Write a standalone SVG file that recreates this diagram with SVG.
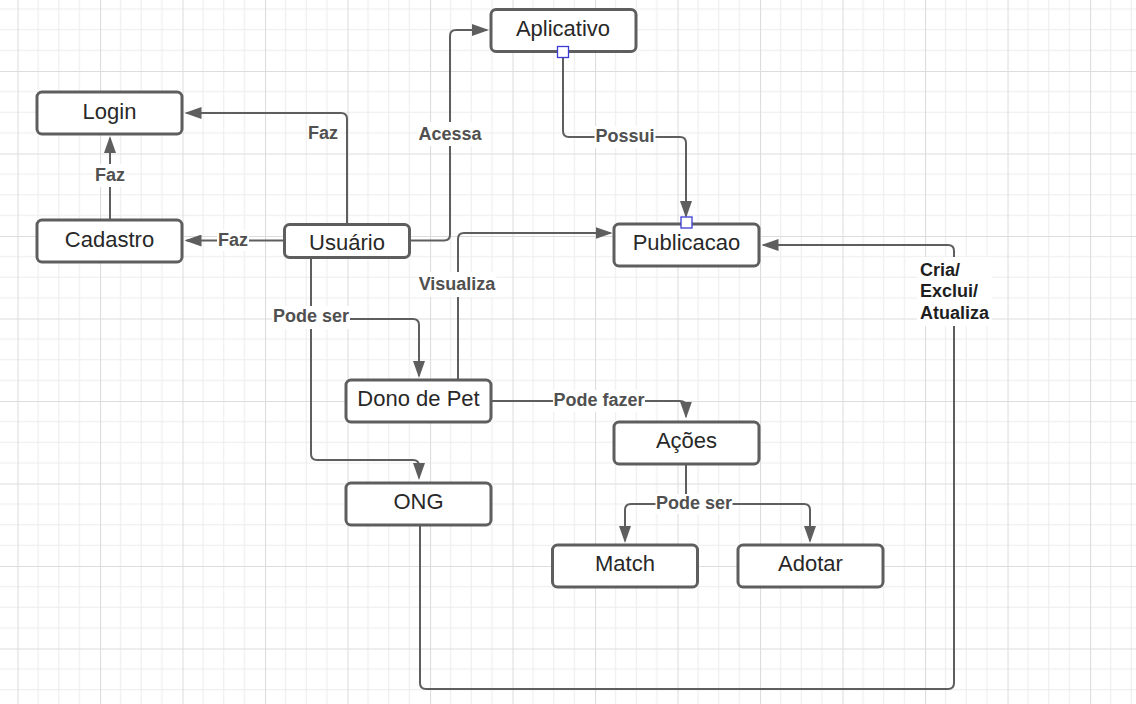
<svg xmlns="http://www.w3.org/2000/svg" width="1136" height="704" viewBox="0 0 1136 704">
  <defs>
    <pattern id="grid" patternUnits="userSpaceOnUse" x="17.5" y="-11.5" width="82.5" height="82.5">
      <g stroke="#ececec" stroke-width="1" fill="none">
        <line x1="20.625" y1="0" x2="20.625" y2="82.5"/>
        <line x1="41.25" y1="0" x2="41.25" y2="82.5"/>
        <line x1="61.875" y1="0" x2="61.875" y2="82.5"/>
        <line x1="0" y1="20.625" x2="82.5" y2="20.625"/>
        <line x1="0" y1="41.25" x2="82.5" y2="41.25"/>
        <line x1="0" y1="61.875" x2="82.5" y2="61.875"/>
      </g>
      <g stroke="#dddddd" stroke-width="1.2" fill="none">
        <line x1="0.5" y1="0" x2="0.5" y2="82.5"/>
        <line x1="0" y1="0.5" x2="82.5" y2="0.5"/>
      </g>
    </pattern>
    <marker id="arrow" markerUnits="userSpaceOnUse" markerWidth="18" markerHeight="12" refX="15" refY="6" orient="auto">
      <path d="M0,0 L17,6 L0,12 z" fill="#5e5e5e"/>
    </marker>
    <style>
      .node rect { fill: #ffffff; stroke: #5e5e5e; stroke-width: 3; }
      .node text { font-family: "Liberation Sans", Arial, sans-serif; font-size: 22px; fill: #282828; text-anchor: middle; }
      .conn { fill: none; stroke: #5e5e5e; stroke-width: 2; }
      .arr { marker-end: url(#arrow); }
      .lbl { font-family: "Liberation Sans", Arial, sans-serif; font-size: 18px; font-weight: bold; fill: #505050; text-anchor: middle; }
      .lbl-dark { font-family: "Liberation Sans", Arial, sans-serif; font-size: 18px; font-weight: bold; fill: #1e1e1e; }
      .bg { fill: #ffffff; }
      .pt { fill: #ffffff; stroke: #3b3bd6; stroke-width: 1.3; }
    </style>
  </defs>

  <rect x="0" y="0" width="1136" height="704" fill="#ffffff"/>
  <rect x="0" y="0" width="1136" height="704" fill="url(#grid)"/>

  <g id="connectors">
    <path class="conn arr" d="M347,224 V119 Q347,113 341,113 H186.5"/>
    <path class="conn arr" d="M110,220 V138"/>
    <path class="conn arr" d="M284,240.5 H186.5"/>
    <path class="conn arr" d="M409,240.5 H444 Q450,240.5 450,234.5 V36 Q450,30 456,30 H487"/>
    <path class="conn arr" d="M563,52 V131 Q563,137 569,137 H680 Q686,137 686,143 V216"/>
    <path class="conn arr" d="M458,380 V239 Q458,233 464,233 H610.5"/>
    <path class="conn arr" d="M311,258 V319 H413 Q419,319 419,325 V376"/>
    <path class="conn arr" d="M311,258 V454 Q311,460 317,460 H413 Q419,460 419,466 V478"/>
    <path class="conn arr" d="M491,401 H680 Q686,401 686,407 V416.5"/>
    <path class="conn arr" d="M686,464 V504 H631 Q625,504 625,510 V541"/>
    <path class="conn arr" d="M686,504 H804 Q810,504 810,510 V541"/>
    <path class="conn arr" d="M420,526 V683 Q420,689 426,689 H948 Q954,689 954,683 V251 Q954,245 948,245 H763.5"/>

    <text class="lbl" x="323" y="139">Faz</text>
    <rect class="bg" x="94" y="164" width="32" height="23"/>
    <text class="lbl" x="110" y="181">Faz</text>
    <rect class="bg" x="217" y="230" width="32" height="21"/>
    <text class="lbl" x="233" y="246">Faz</text>
    <rect class="bg" x="417.5" y="122" width="65" height="24"/>
    <text class="lbl" x="450" y="139.5">Acessa</text>
    <rect class="bg" x="594.5" y="126" width="61" height="22"/>
    <text class="lbl" x="625" y="142">Possui</text>
    <rect class="bg" x="417.5" y="272" width="79" height="25"/>
    <text class="lbl" x="457" y="290">Visualiza</text>
    <rect class="bg" x="272" y="306" width="78" height="23"/>
    <text class="lbl" x="311" y="322">Pode ser</text>
    <rect class="bg" x="553" y="390" width="92" height="22"/>
    <text class="lbl" x="599" y="405.5">Pode fazer</text>
    <rect class="bg" x="655.5" y="494" width="77" height="20"/>
    <text class="lbl" x="694" y="508.5">Pode ser</text>
    <rect class="bg" x="917" y="257" width="75" height="69"/>
    <text class="lbl-dark" x="920" y="275.5">Cria/</text>
    <text class="lbl-dark" x="920" y="297">Exclui/</text>
    <text class="lbl-dark" x="920" y="319">Atualiza</text>
  </g>

  <g id="node-login" class="node">
    <rect x="37" y="92" width="145" height="42" rx="5"/>
    <text x="109.5" y="118.5">Login</text>
  </g>
  <g id="node-cadastro" class="node">
    <rect x="37" y="220" width="145" height="42" rx="5"/>
    <text x="109.5" y="246.5">Cadastro</text>
  </g>
  <g id="node-usuario" class="node">
    <rect x="284.5" y="224.5" width="125" height="33" rx="5"/>
    <text x="347" y="249.5">Usuário</text>
  </g>
  <g id="node-aplicativo" class="node">
    <rect x="491" y="9.5" width="145" height="42" rx="5"/>
    <text x="563" y="35.5">Aplicativo</text>
  </g>
  <g id="node-publicacao" class="node">
    <rect x="614" y="224" width="145" height="42" rx="5"/>
    <text x="686.5" y="250">Publicacao</text>
  </g>
  <g id="node-dono" class="node">
    <rect x="346" y="380" width="145" height="42" rx="5"/>
    <text x="418.5" y="406">Dono de Pet</text>
  </g>
  <g id="node-acoes" class="node">
    <rect x="614" y="422" width="145" height="42" rx="5"/>
    <text x="686.5" y="448">Ações</text>
  </g>
  <g id="node-ong" class="node">
    <rect x="346" y="483" width="145" height="42" rx="5"/>
    <text x="418.5" y="509">ONG</text>
  </g>
  <g id="node-match" class="node">
    <rect x="552.5" y="545" width="145" height="42" rx="5"/>
    <text x="625" y="571">Match</text>
  </g>
  <g id="node-adotar" class="node">
    <rect x="738" y="545" width="145" height="42" rx="5"/>
    <text x="810.5" y="571">Adotar</text>
  </g>

  <g id="connection-points">
    <rect class="pt" x="557.5" y="46.5" width="11" height="11"/>
    <rect class="pt" x="681" y="217" width="11" height="11"/>
  </g>
</svg>
